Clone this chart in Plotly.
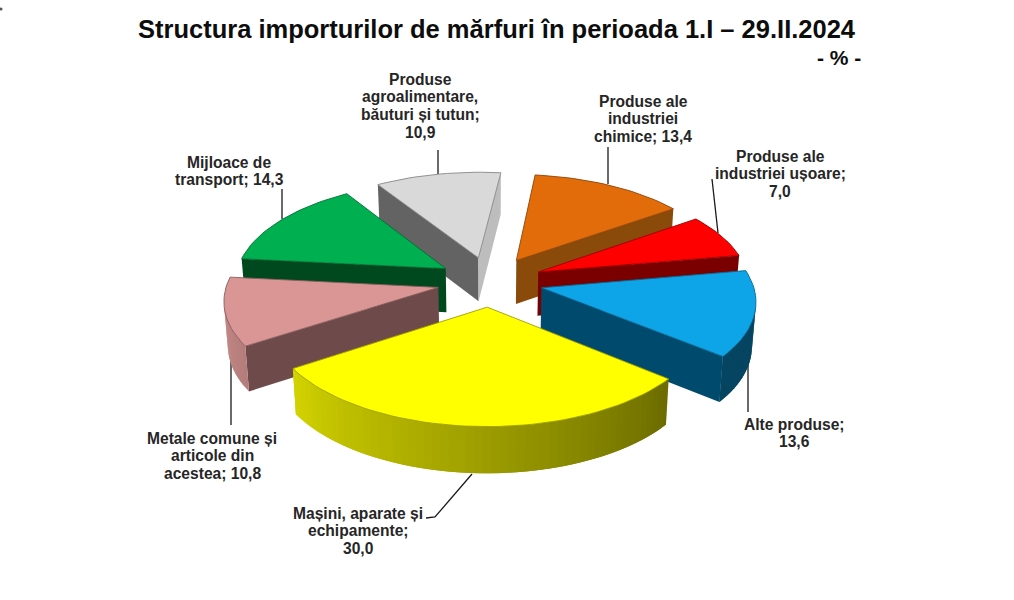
import math
import plotly.graph_objects as go

TITLE = "Structura importurilor de mărfuri în perioada 1.I – 29.II.2024"
UNIT = "- % -"

categories = ["Mașini, aparate și|echipamente;", "Metale comune și|articole din|acestea;",
              "Mijloace de|transport;", "Produse|agroalimentare,|băuturi și tutun;",
              "Produse ale|industriei|chimice;", "Produse ale|industriei ușoare;",
              "Alte produse;"]
value_breaks = ["|", " ", " ", "|", " ", "|", "|"]
values = [30.0, 10.8, 14.3, 10.9, 13.4, 7.0, 13.6]
top_colors = ["#FFFF00", "#D99694", "#00B050", "#D9D9D9", "#E36C0A", "#FF0000", "#0EA5E8"]
start_wall_colors = ["#6E6E00", "#6E4A4A", "#00481E", "#636363", "#8A4A0A", "#7A0000", "#004A6E"]
end_wall_colors = ["#6E6E00", "#6E4A4A", "#00481E", "#BDBDBD", "#8A4A0A", "#7A0000", "#004A6E"]

label_x = [358, 212, 229, 420, 643, 780, 794]
label_y = [513, 438, 162, 79, 101, 156, 424]
LINE_STEP = 17.8
leader_xs = [[426, 435, 472], [231, 231], [282, 282], [438, 438], [608, 608], [712, 718], [748, 748]]
leader_ys = [[518, 517, 474], [425, 355], [189, 219], [150, 174], [147, 184], [179, 233], [412, 358]]

# projection of the exploded pie
CX, CY, AX, BY, PERSP, EXPLODE, FIRST_ANGLE = 490, 281.5, 211, 100, 9.0, 0.25, 129.0


def project(px, pz):
    s = 1 / (1 + pz / PERSP)
    return CX + AX * px * s, CY - BY * pz * s, s


def lower(pt):
    x, y, s = pt
    return CX + (x - CX) * 0.985, y + 44 * s ** 0.4


def hex_rgb(c):
    return [int(c[i:i + 2], 16) for i in (1, 3, 5)]


def shade(c, f):
    return "rgb(%d,%d,%d)" % tuple(min(255, round(v * f)) for v in hex_rgb(c))


def arc_shade(theta):
    t = max(0.0, min(1.0, ((theta % 360) - 129) / (270 - 129)))
    return 0.42 + t * 0.53


def poly(fig, xs, ys, fill, line=None, width=0.0):
    fig.add_trace(go.Scatter(x=list(xs) + [xs[0]], y=list(ys) + [ys[0]], mode="lines", fill="toself",
                             fillcolor=fill, line=dict(color=line or fill, width=width),
                             hoverinfo="skip", showlegend=False))


fig = go.Figure()

# small speck at the left edge of the source image
fig.add_trace(go.Scatter(x=[1], y=[9], mode="markers", marker=dict(size=3, color="#555555"),
                         hoverinfo="skip", showlegend=False))

for lx, ly in zip(leader_xs, leader_ys):
    fig.add_trace(go.Scatter(x=lx, y=ly, mode="lines", line=dict(color="#1a1a1a", width=1.3),
                             hoverinfo="skip", showlegend=False))

slices = []
total = sum(values)
angle = FIRST_ANGLE
for i, v in enumerate(values):
    sweep = v / total * 360
    mid = math.radians(angle + sweep / 2)
    ox, oz = EXPLODE * math.sin(mid), EXPLODE * math.cos(mid)
    n = max(6, int(sweep / 2.0))
    thetas = [angle + sweep * k / n for k in range(n + 1)]
    pts = [project(ox + math.sin(math.radians(t)), oz + math.cos(math.radians(t))) for t in thetas]
    slices.append((i, project(ox, oz), pts, thetas))
    angle += sweep


def wall_visible(a, e, o):
    if abs(e[0] - a[0]) < 1e-6:
        return False
    return o[1] < a[1] + (o[0] - a[0]) * (e[1] - a[1]) / (e[0] - a[0])


for i, apex, pts, thetas in sorted(slices, key=lambda s: s[1][1]):
    top = top_colors[i]
    apex_low = lower(apex)
    for e, o, col in ((pts[0], pts[-1], start_wall_colors[i]), (pts[-1], pts[0], end_wall_colors[i])):
        if wall_visible(apex, e, o):
            el = lower(e)
            poly(fig, [apex[0], e[0], el[0], apex_low[0]], [apex[1], e[1], el[1], apex_low[1]], col)
    vis = [k for k in range(len(pts) - 1) if pts[k + 1][0] < pts[k][0]]
    # each band overlaps the following one, so no background shows through the joins
    for k in vis:
        p, q = pts[k], pts[min(k + 2, vis[-1] + 1)]
        pl, ql = lower(p), lower(q)
        poly(fig, [p[0], q[0], ql[0], pl[0]], [p[1], q[1], ql[1], pl[1]],
             shade(top, arc_shade((thetas[k] + thetas[k + 1]) / 2)))
    poly(fig, [apex[0]] + [p[0] for p in pts], [apex[1]] + [p[1] for p in pts], top,
         line=shade(top, 0.62), width=0.9)

FONT = "Liberation Sans, Arial, sans-serif"
for i, (c, v) in enumerate(zip(categories, values)):
    text = f"{c}{value_breaks[i]}{v:.1f}".replace(".", ",")
    for j, line in enumerate(text.split("|")):
        fig.add_annotation(x=label_x[i], y=label_y[i] + j * LINE_STEP, xref="x", yref="y",
                           text=f"<b>{line}</b>", showarrow=False,
                           xanchor="center", yanchor="middle",
                           font=dict(family=FONT, size=15.6, color="#262626"))

fig.add_annotation(x=497, y=29, xref="x", yref="y", text=f"<b>{TITLE}</b>", showarrow=False,
                   xanchor="center", yanchor="middle", font=dict(family=FONT, size=25.5, color="#0d0d0d"))
fig.add_annotation(x=838.5, y=57, xref="x", yref="y", text=f"<b>{UNIT}</b>", showarrow=False,
                   xanchor="center", yanchor="middle", font=dict(family=FONT, size=21, color="#0d0d0d"))

fig.update_layout(width=1014, height=600, autosize=False, margin=dict(l=0, r=0, t=0, b=0),
                  paper_bgcolor="white", plot_bgcolor="white", showlegend=False,
                  xaxis=dict(range=[0, 1014], visible=False, fixedrange=True),
                  yaxis=dict(range=[600, 0], visible=False, fixedrange=True))

fig.write_html("out.html", post_script="document.body.style.margin='0';document.documentElement.style.overflow='hidden';",
               config={"displayModeBar": False})
